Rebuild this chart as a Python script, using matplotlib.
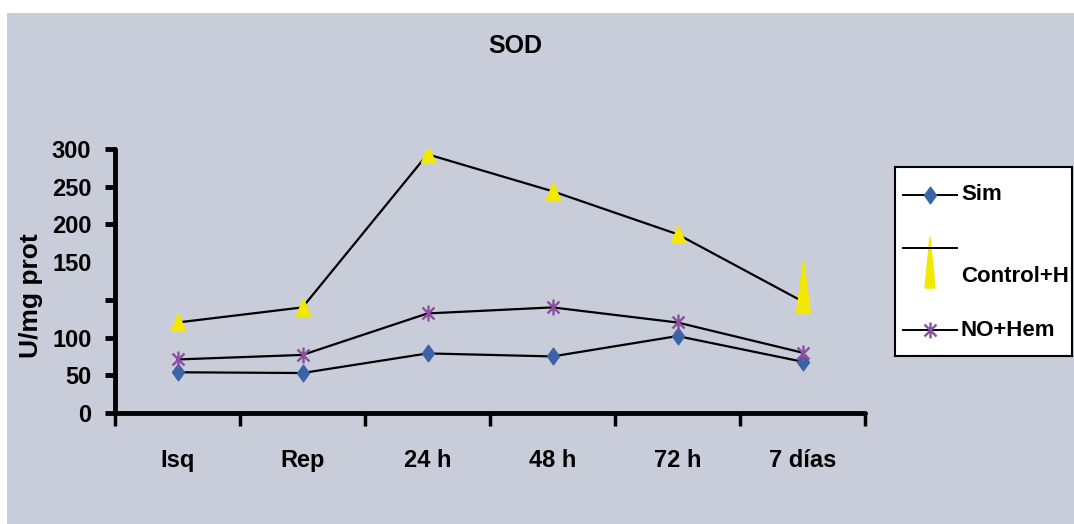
import numpy as np
import matplotlib
matplotlib.use('Agg')
import matplotlib.pyplot as plt
from matplotlib.path import Path
from matplotlib.patches import Rectangle, Polygon
from matplotlib.lines import Line2D

plt.rcParams['font.family'] = ['Liberation Sans', 'DejaVu Sans']
plt.rcParams['font.weight'] = 'bold'

##############################################################################
# SOD activity (U/mg prot) per time point

categories = ['Isq', 'Rep', '24 h', '48 h', '72 h', '7 días']
sim = [54, 53, 79, 75, 101, 68]
control_h = [110, 120, 293, 244, 187, 124]
no_hem = [71, 77, 116, 120, 110, 80]

y_ticks = [0, 50, 100, 150, 200, 250, 300]

BG = '#c9cdda'
BLUE = '#3b63a6'
YELLOW = '#f3e800'
PURPLE = '#8c4f9f'


##############################################################################
# the value axis is stretched between 100 and 150

def fwd(v):
    v = np.asarray(v, dtype=float)
    return np.where(v <= 100, v, np.where(v <= 150, 100 + 2 * (v - 100), v + 50))


def inv(f):
    f = np.asarray(f, dtype=float)
    return np.where(f <= 100, f, np.where(f <= 200, 100 + (f - 100) / 2, f - 50))


# marker shapes
diamond = Path([(0, 1), (0.72, 0), (0, -1), (-0.72, 0), (0, 1)],
               [Path.MOVETO, Path.LINETO, Path.LINETO, Path.LINETO, Path.CLOSEPOLY])
triangle = Path([(0, 1), (-0.82, -1), (0.82, -1), (0, 1)],
                [Path.MOVETO, Path.LINETO, Path.LINETO, Path.CLOSEPOLY])
tall_triangle = Path([(0, 29.5), (-5, -8.6), (5, -8.6), (0, 29.5)],
                     [Path.MOVETO, Path.LINETO, Path.LINETO, Path.CLOSEPOLY])
star = Path([(0, -1), (0, 1), (-0.75, -0.75), (0.75, 0.75), (-0.75, 0.75), (0.75, -0.75)],
            [Path.MOVETO, Path.LINETO] * 3)


fig = plt.figure(figsize=(10.74, 5.24), dpi=100, facecolor=BG)
fig.add_artist(Rectangle((0, 1 - 13 / 524), 1, 13 / 524, transform=fig.transFigure,
                         facecolor='white', edgecolor='none'))
fig.add_artist(Rectangle((0, 0), 7 / 1074, 1, transform=fig.transFigure,
                         facecolor='white', edgecolor='none'))

ax = fig.add_axes([115 / 1074, 111 / 524, 750 / 1074, 264 / 524])
ax.set_facecolor('none')
ax.set_yscale('function', functions=(fwd, inv))
ax.set_ylim(0, 300)
ax.set_xlim(0, len(categories))

x = np.arange(len(categories)) + 0.5

ax.plot(x, sim, color='black', lw=1.6, marker=diamond, ms=12,
        mfc=BLUE, mec=BLUE, zorder=3)
ax.plot(x, control_h, color='black', lw=1.6, zorder=3)
ax.plot(x[:-1], control_h[:-1], ls='none', marker=triangle, ms=12.5,
        mfc=YELLOW, mec=YELLOW, zorder=4)
ax.plot(x[-1:], control_h[-1:], ls='none', marker=tall_triangle, ms=59,
        mfc=YELLOW, mec=YELLOW, zorder=4)
ax.plot(x, no_hem, color='black', lw=1.6, marker=star, ms=11.5,
        mfc='none', mec=PURPLE, mew=1.7, zorder=3)

for s in ['top', 'right']:
    ax.spines[s].set_visible(False)
for s in ['left', 'bottom']:
    ax.spines[s].set_linewidth(3.5)
    ax.spines[s].set_capstyle('round')

ax.set_yticks(y_ticks)
ax.set_yticks([125], minor=True)
ax.set_yticklabels([str(v) for v in y_ticks])
ax.tick_params(axis='y', which='both', direction='out', length=7, width=3.5,
               labelsize=17, pad=10)
ax.yaxis.get_major_ticks()[3].tick1line.set_visible(False)

ax.set_xticks(np.arange(len(categories) + 1))
ax.set_xticklabels([''] * (len(categories) + 1))
ax.set_xticks(x, minor=True)
ax.set_xticklabels(categories, minor=True)
ax.tick_params(axis='x', which='major', direction='out', length=9, width=2.5)
ax.tick_params(axis='x', which='minor', length=0, labelsize=17, pad=26)

fig.text(515 / 1074, 1 - 46 / 524, 'SOD', ha='center', va='center',
         fontsize=18, fontweight='bold')
fig.text(31 / 1074, 1 - 296 / 524, 'U/mg prot', rotation=90, ha='center',
         va='center', fontsize=19)

##############################################################################
# legend box

lg = fig.add_axes([895 / 1074, 1 - 356 / 524, 177 / 1074, 189 / 524])
lg.set_facecolor('white')
lg.set_xlim(0, 177)
lg.set_ylim(189, 0)
lg.set_xticks([])
lg.set_yticks([])
for s in lg.spines.values():
    s.set_linewidth(1.5)

lg.add_line(Line2D([8, 62], [28, 28], color='black', lw=1.4))
lg.plot([35], [28], marker=diamond, ms=12, mfc=BLUE, mec=BLUE)
lg.text(66, 28, 'Sim', va='center', fontsize=16)

lg.add_line(Line2D([8, 62], [81, 81], color='black', lw=1.4))
lg.add_patch(Polygon([(35, 70), (30, 121), (40, 121)], closed=True,
                     facecolor=YELLOW, edgecolor=YELLOW))
lg.text(66, 110, 'Control+H', va='center', fontsize=16)

lg.add_line(Line2D([8, 62], [163, 163], color='black', lw=1.4))
lg.plot([35], [163], marker=star, ms=11.5, mfc='none', mec=PURPLE, mew=1.7)
lg.text(66, 163, 'NO+Hem', va='center', fontsize=16)

fig.savefig('out.png', dpi=100, facecolor=fig.get_facecolor())
